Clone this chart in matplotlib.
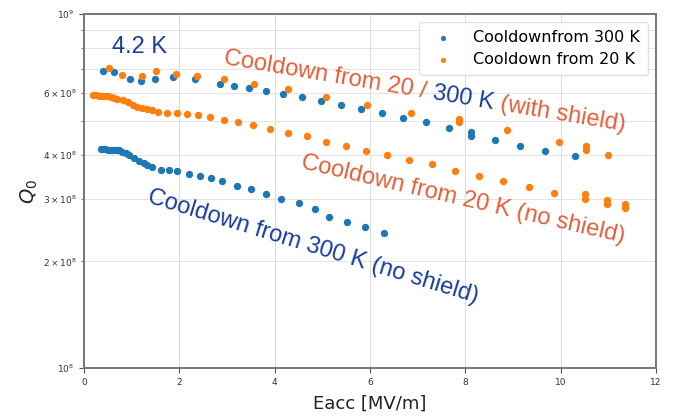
import numpy as np
import matplotlib
matplotlib.use("Agg")
import matplotlib.pyplot as plt
import matplotlib.transforms as mtransforms

# ---------------- data ----------------
# Cooldown from 300 K, with shield (upper blue branch)
e_300_shield = [0.40, 0.63, 0.96, 1.19, 1.49, 1.86, 2.33, 2.85, 3.15, 3.46, 3.82, 4.17,
                4.57, 4.98, 5.39, 5.81, 6.25, 6.69, 7.17, 7.66, 8.11, 8.11, 8.62, 9.15,
                9.67, 10.30]
q_300_shield = [6.92e8, 6.85e8, 6.56e8, 6.48e8, 6.57e8, 6.64e8, 6.55e8, 6.35e8, 6.28e8,
                6.17e8, 6.06e8, 5.94e8, 5.83e8, 5.68e8, 5.55e8, 5.39e8, 5.25e8, 5.10e8,
                4.95e8, 4.77e8, 4.65e8, 4.52e8, 4.42e8, 4.25e8, 4.11e8, 3.98e8]

# Cooldown from 300 K, no shield (lower blue branch)
e_300_noshield = [0.35, 0.40, 0.45, 0.50, 0.56, 0.62, 0.68, 0.74, 0.80, 0.88, 0.94, 1.05,
                  1.15, 1.26, 1.33, 1.43, 1.61, 1.78, 1.96, 2.20, 2.43, 2.66, 2.90, 3.21,
                  3.51, 3.82, 4.13, 4.50, 4.85, 5.14, 5.52, 5.89, 6.30]
q_300_noshield = [4.16e8, 4.16e8, 4.15e8, 4.14e8, 4.13e8, 4.13e8, 4.13e8, 4.12e8, 4.08e8,
                  4.05e8, 3.99e8, 3.92e8, 3.85e8, 3.80e8, 3.75e8, 3.70e8, 3.63e8, 3.63e8,
                  3.59e8, 3.53e8, 3.48e8, 3.44e8, 3.37e8, 3.27e8, 3.20e8, 3.10e8, 3.00e8,
                  2.92e8, 2.82e8, 2.67e8, 2.58e8, 2.50e8, 2.40e8]

# Cooldown from 20 K, with shield (upper orange branch)
e_20_shield = [0.53, 0.80, 1.22, 1.52, 1.92, 2.37, 2.93, 3.56, 4.29, 5.08, 5.94, 6.85,
               7.87, 7.87, 8.87, 9.97, 10.53, 10.53, 11.00]
q_20_shield = [7.03e8, 6.74e8, 6.67e8, 6.88e8, 6.79e8, 6.66e8, 6.54e8, 6.36e8, 6.13e8,
               5.84e8, 5.55e8, 5.26e8, 5.05e8, 4.95e8, 4.69e8, 4.35e8, 4.25e8, 4.14e8,
               4.00e8]

# Cooldown from 20 K, no shield (middle orange branch)
e_20_noshield = [0.19, 0.26, 0.32, 0.38, 0.45, 0.51, 0.57, 0.63, 0.69, 0.82, 0.92, 1.03,
                 1.11, 1.22, 1.32, 1.43, 1.55, 1.74, 1.95, 2.16, 2.39, 2.64, 2.94, 3.23,
                 3.55, 3.90, 4.28, 4.68, 5.08, 5.50, 5.92, 6.36, 6.82, 7.30, 7.78, 8.29,
                 8.79, 9.34, 9.86, 10.51, 10.51, 10.97, 10.97, 11.35, 11.35]
q_20_noshield = [5.89e8, 5.89e8, 5.88e8, 5.87e8, 5.86e8, 5.85e8, 5.82e8, 5.80e8, 5.77e8,
                 5.73e8, 5.64e8, 5.55e8, 5.46e8, 5.43e8, 5.39e8, 5.34e8, 5.30e8, 5.25e8,
                 5.25e8, 5.23e8, 5.20e8, 5.12e8, 5.03e8, 4.95e8, 4.86e8, 4.73e8, 4.62e8,
                 4.51e8, 4.36e8, 4.25e8, 4.11e8, 4.00e8, 3.88e8, 3.77e8, 3.61e8, 3.49e8,
                 3.38e8, 3.24e8, 3.13e8, 3.11e8, 3.01e8, 2.99e8, 2.90e8, 2.90e8, 2.83e8]

legend_labels = ["Cooldownfrom 300 K", "Cooldown from 20 K"]
x_ticks = [0, 2, 4, 6, 8, 10, 12]

# ---------------- style ----------------
BLUE = "#1f77b4"
ORANGE = "#ff7f0e"
TXT_BLUE = "#183d9c"
TXT_ORANGE = "#e0603a"
ANN_FONT = ["Liberation Sans", "DejaVu Sans"]

fig = plt.figure(figsize=(6.73, 4.17), dpi=100)
ax = fig.add_axes([84 / 673, 1 - 368 / 417, (656 - 84) / 673, (368 - 14) / 417])

ax.scatter(np.concatenate([e_300_shield, e_300_noshield]),
           np.concatenate([q_300_shield, q_300_noshield]),
           s=28, color=BLUE, label=legend_labels[0], zorder=3, linewidths=0)
ax.scatter(np.concatenate([e_20_shield, e_20_noshield]),
           np.concatenate([q_20_shield, q_20_noshield]),
           s=28, color=ORANGE, label=legend_labels[1], zorder=4, linewidths=0)

ax.set_yscale("log")
ax.set_ylim(1e8, 1e9)
ax.set_xlim(0, 12)
ax.set_xticks(x_ticks)

ax.grid(which="major", axis="both", color="#dddddd", linewidth=0.8)
ax.grid(which="minor", axis="y", color="#e4e4e4", linewidth=0.7)
ax.set_axisbelow(True)

for sp in ax.spines.values():
    sp.set_color("#777777")
    sp.set_linewidth(1.4)
ax.tick_params(axis="both", which="both", labelsize=6.5, colors="#555555",
               labelcolor="#333333")

ax.set_xlabel("Eacc [MV/m]", fontsize=13, color="#222222", labelpad=6)
ax.set_ylabel("$Q_0$", fontsize=14, color="#222222", labelpad=2)

leg = ax.legend(loc="upper right", fontsize=11.5, markerscale=0.7,
                handletextpad=0.9, borderpad=0.5, labelspacing=0.45,
                framealpha=0.9, edgecolor="#dddddd")

# ---------------- annotations ----------------
H = fig.get_figheight() * fig.dpi
ident = mtransforms.IdentityTransform()
renderer = fig.canvas.get_renderer()


def text_width(s, size):
    t1 = fig.text(0, 0, s + "|", fontsize=size, family=ANN_FONT)
    t2 = fig.text(0, 0, "|", fontsize=size, family=ANN_FONT)
    w = t1.get_window_extent(renderer).width - t2.get_window_extent(renderer).width
    t1.remove()
    t2.remove()
    return w


def rich_text(x_px, y_px, pieces, angle, size):
    x, y = x_px, H - y_px
    th = np.deg2rad(angle)
    for s, c in pieces:
        fig.text(x, y, s, transform=ident, rotation=angle, rotation_mode="anchor",
                 ha="left", va="baseline", fontsize=size, color=c, family=ANN_FONT)
        w = text_width(s, size)
        x += w * np.cos(th)
        y += w * np.sin(th)


rich_text(112, 53, [("4.2 K", TXT_BLUE)], 0, 17)
rich_text(223, 64, [("Cooldown from 20 / ", TXT_ORANGE), ("300 K", TXT_BLUE),
                    (" (with shield)", TXT_ORANGE)], -9.5, 17)
rich_text(300, 168, [("Cooldown from 20 K (no shield)", TXT_ORANGE)], -13, 17)
rich_text(146, 202, [("Cooldown from 300 K (no shield)", TXT_BLUE)], -17, 17)

fig.savefig("out.png", dpi=100)
